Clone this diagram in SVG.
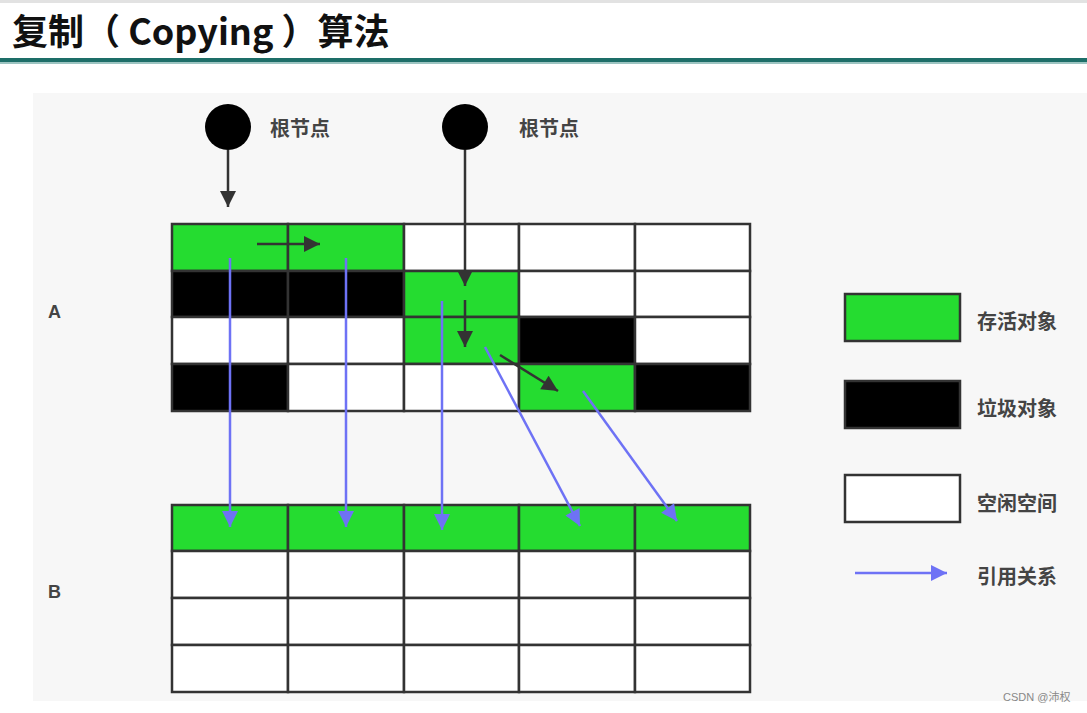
<svg xmlns="http://www.w3.org/2000/svg" width="1087" height="713" viewBox="0 0 1087 713">
<defs>
<style>
.cell{stroke:#333;stroke-width:2.5}
.g{fill:#25dc30}.k{fill:#000}.w{fill:#fff}
.lbl{font-family:"Noto Sans CJK SC","Noto Sans",sans-serif;font-weight:bold;fill:#444;font-size:20px}
.dark{stroke:#333;stroke-width:2.5;fill:none}
.blue{stroke:#6e72f5;stroke-width:2.5;fill:none}
</style>
<marker id="ab" viewBox="0 0 10 10" refX="10" refY="5" markerWidth="20" markerHeight="16" orient="auto" markerUnits="userSpaceOnUse">
<path d="M0,0 L10,5 L0,10 Z" fill="#6e72f5"/>
</marker>
<marker id="ak" viewBox="0 0 10 10" refX="10" refY="5" markerWidth="20" markerHeight="16" orient="auto" markerUnits="userSpaceOnUse">
<path d="M0,0 L10,5 L0,10 Z" fill="#333"/>
</marker>
</defs>
<rect x="0" y="0" width="1087" height="713" fill="#fff"/>
<rect x="0" y="0" width="1087" height="3" fill="#e2e2e2"/>
<rect x="33" y="93" width="1054" height="608" fill="#f7f7f7"/>
<rect x="0" y="58" width="1087" height="4" fill="#1d6e68"/>
<rect x="0" y="62" width="1087" height="2" fill="#9cc4c1"/>
<text x="12" y="45" font-family="'Noto Sans CJK SC','Noto Sans',sans-serif" font-weight="bold" font-size="36" fill="#111">复制（ Copying ）算法</text>

<g id="labels">
<text x="48" y="318" font-family="'Liberation Sans',Arial,sans-serif" font-weight="bold" font-size="18" fill="#444">A</text>
<text x="48" y="598" font-family="'Liberation Sans',Arial,sans-serif" font-weight="bold" font-size="18" fill="#444">B</text>
</g>

<g id="root1">
<circle cx="228" cy="127" r="23" fill="#000"/>
<text class="lbl" x="270" y="136" font-size="19">根节点</text>
</g>
<g id="root2">
<circle cx="465" cy="127" r="23" fill="#000"/>
<text class="lbl" x="519" y="136" font-size="19">根节点</text>
</g>

<g id="gridA">
<rect class="cell g" x="172" y="224" width="116" height="47"/>
<rect class="cell g" x="288" y="224" width="116" height="47"/>
<rect class="cell w" x="404" y="224" width="115" height="47"/>
<rect class="cell w" x="519" y="224" width="116" height="47"/>
<rect class="cell w" x="635" y="224" width="115" height="47"/>
<rect class="cell k" x="172" y="271" width="116" height="46"/>
<rect class="cell k" x="288" y="271" width="116" height="46"/>
<rect class="cell g" x="404" y="271" width="115" height="46"/>
<rect class="cell w" x="519" y="271" width="116" height="46"/>
<rect class="cell w" x="635" y="271" width="115" height="46"/>
<rect class="cell w" x="172" y="317" width="116" height="47"/>
<rect class="cell w" x="288" y="317" width="116" height="47"/>
<rect class="cell g" x="404" y="317" width="115" height="47"/>
<rect class="cell k" x="519" y="317" width="116" height="47"/>
<rect class="cell w" x="635" y="317" width="115" height="47"/>
<rect class="cell k" x="172" y="364" width="116" height="47"/>
<rect class="cell w" x="288" y="364" width="116" height="47"/>
<rect class="cell w" x="404" y="364" width="115" height="47"/>
<rect class="cell g" x="519" y="364" width="116" height="47"/>
<rect class="cell k" x="635" y="364" width="115" height="47"/>
</g>

<g id="gridB">
<rect class="cell g" x="172" y="505" width="116" height="46"/>
<rect class="cell g" x="288" y="505" width="116" height="46"/>
<rect class="cell g" x="404" y="505" width="115" height="46"/>
<rect class="cell g" x="519" y="505" width="116" height="46"/>
<rect class="cell g" x="635" y="505" width="115" height="46"/>
<rect class="cell w" x="172" y="551" width="116" height="47"/>
<rect class="cell w" x="288" y="551" width="116" height="47"/>
<rect class="cell w" x="404" y="551" width="115" height="47"/>
<rect class="cell w" x="519" y="551" width="116" height="47"/>
<rect class="cell w" x="635" y="551" width="115" height="47"/>
<rect class="cell w" x="172" y="598" width="116" height="47"/>
<rect class="cell w" x="288" y="598" width="116" height="47"/>
<rect class="cell w" x="404" y="598" width="115" height="47"/>
<rect class="cell w" x="519" y="598" width="116" height="47"/>
<rect class="cell w" x="635" y="598" width="115" height="47"/>
<rect class="cell w" x="172" y="645" width="116" height="47"/>
<rect class="cell w" x="288" y="645" width="116" height="47"/>
<rect class="cell w" x="404" y="645" width="115" height="47"/>
<rect class="cell w" x="519" y="645" width="116" height="47"/>
<rect class="cell w" x="635" y="645" width="115" height="47"/>
</g>

<g id="connectors">
<line class="dark" x1="228" y1="150" x2="228" y2="207" marker-end="url(#ak)"/>
<line class="dark" x1="465" y1="150" x2="465" y2="286" marker-end="url(#ak)"/>
<line class="dark" x1="257" y1="244" x2="320" y2="244" marker-end="url(#ak)"/>
<line class="dark" x1="465" y1="300" x2="465" y2="347" marker-end="url(#ak)"/>
<line class="dark" x1="500" y1="355" x2="558" y2="391" marker-end="url(#ak)"/>
<line class="blue" x1="230" y1="258" x2="230" y2="527" marker-end="url(#ab)"/>
<line class="blue" x1="346" y1="258" x2="346" y2="527" marker-end="url(#ab)"/>
<line class="blue" x1="442" y1="301" x2="442" y2="530" marker-end="url(#ab)"/>
<line class="blue" x1="485" y1="347" x2="580" y2="526" marker-end="url(#ab)"/>
<line class="blue" x1="583" y1="391" x2="677" y2="521" marker-end="url(#ab)"/>
</g>

<g id="legend">
<g id="leg-live"><rect class="cell g" x="845" y="294" width="115" height="47"/><text class="lbl" x="977" y="329">存活对象</text></g>
<g id="leg-garbage"><rect class="cell k" x="845" y="381" width="115" height="47"/><text class="lbl" x="977" y="416">垃圾对象</text></g>
<g id="leg-free"><rect class="cell w" x="845" y="475" width="115" height="47"/><text class="lbl" x="977" y="511">空闲空间</text></g>
<g id="leg-ref"><line class="blue" x1="855" y1="573" x2="947" y2="573" marker-end="url(#ab)"/><text class="lbl" x="977" y="584">引用关系</text></g>
</g>

<text x="1003" y="701" font-family="'Liberation Sans',Arial,'Noto Sans CJK SC',sans-serif" font-size="11" fill="#888">CSDN @沛权</text>
</svg>
